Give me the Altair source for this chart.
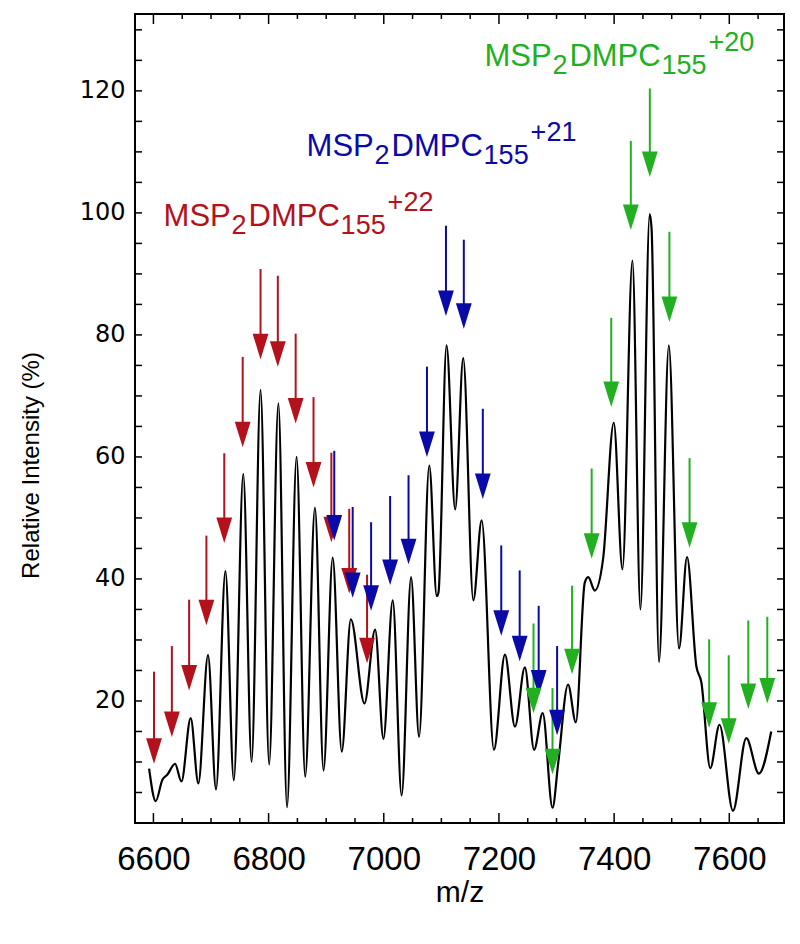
import altair as alt
import pandas as pd

# ---------------- data ----------------
mz = [6592.5, 6604, 6615.6, 6624, 6637.6, 6648.6, 6664.7, 6678, 6694.8, 6708.7,
      6725, 6739.6, 6756, 6770.5, 6786, 6801, 6817, 6832, 6848.6, 6863.6,
      6880.5, 6895.4, 6911.3, 6927, 6942.8, 6966.5, 6985, 6999.4, 7015.6, 7031,
      7047.4, 7061.3, 7079, 7092, 7095, 7109, 7124, 7138, 7155.5, 7170,
      7191.3, 7210.4, 7227.8, 7245, 7261, 7276, 7293, 7303, 7320, 7333.5,
      7349, 7355, 7366.5, 7381, 7399.4, 7414.5, 7431.8, 7445.7, 7461.8, 7465,
      7478, 7495, 7512.7, 7526.6, 7542.8, 7551.4, 7567, 7583, 7606.4, 7629.5,
      7651.4, 7672.8]
intensity = [8.9, 3.6, 7.1, 7.9, 9.7, 6.8, 17.2, 6.5, 27.5, 5.5,
             41.3, 7.0, 57.2, 10.0, 71.0, 9.6, 68.8, 2.6, 60.0, 7.6,
             51.7, 8.6, 43.5, 11.7, 33.4, 19.6, 31.7, 13.8, 36.5, 4.5,
             40.3, 14.1, 58.6, 37.2, 37.8, 78.3, 51.4, 76.2, 36.5, 49.6,
             12.0, 27.6, 15.8, 25.5, 12.0, 18.0, 2.5, 9.9, 22.7, 16.5,
             39.4, 40.3, 38.1, 43.4, 65.6, 41.6, 92.2, 35.0, 99.8, 97.5,
             26.4, 78.3, 28.6, 43.6, 25.7, 23.1, 9.0, 16.1, 2.0, 13.9,
             8.1, 15.0]

red_mz = [6601, 6632, 6662, 6692, 6723, 6755, 6786, 6816, 6847, 6878, 6909, 6940, 6971]
red_top = [24.8, 29.0, 36.6, 47.1, 60.6, 76.4, 90.8, 89.7, 80.2, 69.8, 60.7, 51.5, 40.7]
red_tip = [9.7, 14.1, 21.7, 32.4, 45.9, 61.6, 76.0, 74.8, 65.5, 55.0, 46.0, 37.6, 26.2]

blue_mz = [6914, 6946, 6978, 7011, 7043, 7075, 7108, 7139, 7172, 7204, 7236, 7269, 7301]
blue_top = [61.0, 51.8, 49.3, 53.6, 57.0, 74.8, 97.9, 95.6, 67.9, 45.5, 41.4, 35.6, 29.0]
blue_tip = [46.3, 36.9, 34.8, 39.0, 42.4, 60.0, 83.1, 81.0, 53.1, 30.7, 26.5, 20.9, 14.4]

green_mz = [7260, 7293, 7327, 7361, 7395, 7429, 7462, 7496, 7531, 7565, 7599, 7633, 7666]
green_top = [32.7, 22.1, 38.9, 58.1, 82.8, 111.8, 120.4, 96.9, 59.8, 30.1, 27.5, 33.2, 33.8]
green_tip = [18.0, 8.0, 24.4, 43.3, 68.2, 97.2, 105.9, 82.1, 45.1, 15.6, 13.0, 18.7, 19.6]

charges = ["22", "21", "20"]
label_mz = [6617.7, 6866.0, 7174.7]
label_int = [97.9, 109.3, 124.0]
label_sup = ["+22", "+21", "+20"]

x_labels = [6600, 6800, 7000, 7200, 7400, 7600]
x_minor = [6650, 6700, 6750, 6850, 6900, 6950, 7050, 7100, 7150, 7250, 7300, 7350,
           7450, 7500, 7550, 7650]
y_labels = [20, 40, 60, 80, 100, 120]
y_minor = [5, 10, 15, 20, 25, 30, 35, 40, 45, 50, 55, 60, 65, 70, 75, 80, 85, 90,
           95, 100, 105, 110, 115, 120, 125, 130]

# ---------------- styling ----------------
RED, BLUE, GREEN = "#b3121c", "#0a0aa6", "#22b022"
W, H = 649, 809
XDOM = [6568, 7695]
YDOM = [0, 132.6]

xs = alt.Scale(domain=XDOM, nice=False, zero=False)
ys = alt.Scale(domain=YDOM, nice=False, zero=False)
cs = alt.Scale(domain=charges, range=[RED, BLUE, GREEN])

XAX = alt.Axis(
    values=x_labels, format="d", tickSize=0, domain=False, grid=False,
    labelFont="Liberation Sans", labelFontSize=33, labelPadding=20, labelColor="black",
    title="m/z", titleFont="Liberation Sans", titleFontSize=30,
    titleFontWeight="normal", titleColor="black", titleBaseline="alphabetic", titleY=78)
YAX = alt.Axis(
    values=y_labels, format="d", tickSize=0, domain=False, grid=False,
    labelFont="DejaVu Sans", labelFontSize=24, labelPadding=10, labelColor="black",
    title="Relative Intensity (%)", titleFont="Liberation Sans",
    titleFontSize=24, titleFontWeight="normal", titleColor="black",
    titleAngle=270, titleAlign="center", titleBaseline="middle",
    titleX=-104, titleY=451)


def X(field):
    return alt.X(field, scale=xs, axis=XAX, title="m/z")


def Y(field):
    return alt.Y(field, scale=ys, axis=YAX, title="Relative Intensity (%)")


spec = pd.DataFrame({"mz": mz, "inten": intensity})

arrows = pd.DataFrame({
    "mz": red_mz + blue_mz + green_mz,
    "top": red_top + blue_top + green_top,
    "tip": red_tip + blue_tip + green_tip,
    "charge": ["22"] * len(red_mz) + ["21"] * len(blue_mz) + ["20"] * len(green_mz),
})

labels = pd.DataFrame({
    "mz": label_mz, "inten": label_int, "charge": charges,
    "t1": ["MSP"] * 3, "t2": ["2"] * 3, "t3": ["DMPC"] * 3, "t4": ["155"] * 3,
    "t5": label_sup,
})

line = alt.Chart(spec).mark_line(color="black", strokeWidth=2.2, interpolate="monotone").encode(
    x=X("mz:Q"), y=Y("inten:Q"))

shaft = alt.Chart(arrows).transform_calculate(mid="datum.tip + 2").mark_rule(strokeWidth=2).encode(
    x=X("mz:Q"),
    y=Y("top:Q"),
    y2="mid:Q",
    color=alt.Color("charge:N", scale=cs, legend=None),
)

head = alt.Chart(arrows).mark_point(
    shape="M-0.62,-2L0.62,-2L0,0Z", filled=True, size=650, opacity=1, strokeWidth=0
).encode(
    x=X("mz:Q"),
    y=Y("tip:Q"),
    color=alt.Color("charge:N", scale=cs, legend=None),
)


def seg(field, dx, dy, size):
    return alt.Chart(labels).mark_text(
        align="left", baseline="alphabetic", dx=dx, dy=dy, fontSize=size,
        font="Liberation Sans"
    ).encode(
        x=X("mz:Q"),
        y=Y("inten:Q"),
        text=f"{field}:N",
        color=alt.Color("charge:N", scale=cs, legend=None),
    )


texts = [
    seg("t1", 0, 0, 31),
    seg("t2", 68, 8, 27),
    seg("t3", 85, 0, 31),
    seg("t4", 177, 8, 27),
    seg("t5", 224, -15, 27),
]


def xtick(vals, length):
    df = pd.DataFrame({"v": vals})
    base = alt.Chart(df).mark_rule(color="black", strokeWidth=1.5)
    b = base.encode(x=X("v:Q"), y=alt.value(H), y2=alt.value(H - length))
    t = base.encode(x=X("v:Q"), y=alt.value(0), y2=alt.value(length))
    return [b, t]


def ytick(vals, length):
    df = pd.DataFrame({"v": vals})
    base = alt.Chart(df).mark_rule(color="black", strokeWidth=1.5)
    l = base.encode(y=Y("v:Q"), x=alt.value(0), x2=alt.value(length))
    r = base.encode(y=Y("v:Q"), x=alt.value(W), x2=alt.value(W - length))
    return [l, r]


ticks = xtick(x_labels, 10) + xtick(x_minor, 5) + ytick(y_minor, 7)

chart = alt.layer(line, shaft, head, *texts, *ticks).properties(
    width=W, height=H,
    autosize=alt.AutoSizeParams(type="none"),
    padding={"left": 127, "top": 6, "right": 8, "bottom": 113},
    background="white",
).configure_view(stroke="black", strokeWidth=2)

chart.save("out.html", embed_options={"renderer": "svg", "actions": False})
